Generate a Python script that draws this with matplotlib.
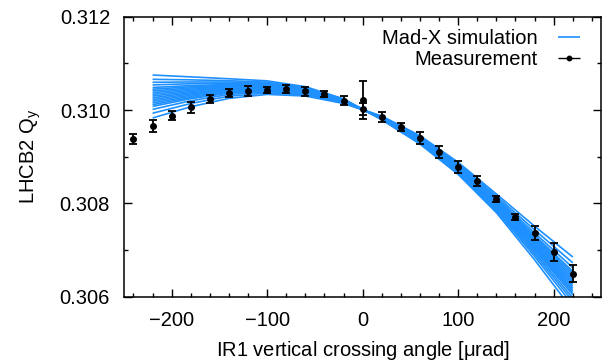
import matplotlib
matplotlib.use("Agg")
import matplotlib.pyplot as plt
from matplotlib.ticker import MultipleLocator, FormatStrFormatter
from matplotlib.legend_handler import HandlerErrorbar

plt.rcParams['font.family'] = ['Liberation Sans', 'DejaVu Sans']
plt.rcParams['mathtext.fontset'] = 'custom'
plt.rcParams['mathtext.rm'] = 'Liberation Sans'
plt.rcParams['mathtext.it'] = 'Liberation Sans'

# Mad-X runs: tune vs crossing angle, one row per error seed
sim_x = [-220, -180, -140, -100, -60, -20, 20, 60, 100, 140, 180, 220]
sim_qy = [
    [0.31075, 0.31071, 0.31067, 0.310625, 0.31050, 0.31024, 0.30979, 0.30927, 0.30862, 0.30780, 0.30679, 0.30571],
    [0.310658, 0.310646, 0.310628, 0.310596, 0.31048, 0.31023, 0.309798, 0.309288, 0.308646, 0.30784, 0.306862, 0.305824],
    [0.310594, 0.310601, 0.310599, 0.310576, 0.310466, 0.310223, 0.309804, 0.309301, 0.308664, 0.307868, 0.306912, 0.305904],
    [0.310538, 0.310563, 0.310573, 0.310558, 0.310454, 0.310217, 0.309808, 0.309311, 0.30868, 0.307892, 0.306956, 0.305972],
    [0.310483, 0.310524, 0.310548, 0.310541, 0.310442, 0.310211, 0.309813, 0.309322, 0.308695, 0.307916, 0.306999, 0.306041],
    [0.310446, 0.310499, 0.310531, 0.310529, 0.310434, 0.310207, 0.309816, 0.309329, 0.308706, 0.307932, 0.307028, 0.306086],
    [0.31041, 0.310473, 0.310515, 0.310518, 0.310426, 0.310203, 0.30982, 0.309337, 0.308716, 0.307948, 0.307056, 0.306132],
    [0.310373, 0.310448, 0.310498, 0.310506, 0.310418, 0.310199, 0.309823, 0.309344, 0.308727, 0.307964, 0.307085, 0.306177],
    [0.310336, 0.310422, 0.310481, 0.310495, 0.31041, 0.310195, 0.309826, 0.309351, 0.308737, 0.30798, 0.307114, 0.306223],
    [0.310299, 0.310396, 0.310464, 0.310483, 0.310402, 0.310191, 0.309829, 0.309358, 0.308747, 0.307996, 0.307143, 0.306269],
    [0.310262, 0.310371, 0.310447, 0.310471, 0.310394, 0.310187, 0.309832, 0.309365, 0.308758, 0.308012, 0.307172, 0.306314],
    [0.310226, 0.310345, 0.310431, 0.31046, 0.310386, 0.310183, 0.309836, 0.309373, 0.308768, 0.308028, 0.3072, 0.30636],
    [0.310189, 0.31032, 0.310414, 0.310448, 0.310378, 0.310179, 0.309839, 0.30938, 0.308779, 0.308044, 0.307229, 0.306405],
    [0.310152, 0.310294, 0.310397, 0.310437, 0.31037, 0.310175, 0.309842, 0.309387, 0.308789, 0.30806, 0.307258, 0.306451],
    [0.310115, 0.310268, 0.31038, 0.310425, 0.310362, 0.310171, 0.309845, 0.309394, 0.308799, 0.308076, 0.307287, 0.306497],
    [0.310078, 0.310243, 0.310363, 0.310413, 0.310354, 0.310167, 0.309848, 0.309401, 0.30881, 0.308092, 0.307316, 0.306542],
    [0.310014, 0.310198, 0.310334, 0.310393, 0.31034, 0.31016, 0.309854, 0.309414, 0.308828, 0.30812, 0.307366, 0.306622],
    [0.309931, 0.31014, 0.310296, 0.310367, 0.310322, 0.310151, 0.309861, 0.30943, 0.308851, 0.308156, 0.307431, 0.306725],
    [0.30983, 0.31007, 0.31025, 0.310335, 0.3103, 0.31014, 0.30987, 0.30945, 0.30888, 0.3082, 0.30751, 0.30685],
]

# measured LHCB2 vertical tune
meas_x = [-240, -220, -200, -180, -160, -140, -120, -100, -80, -60, -40, -20, 0, 0,
          20, 40, 60, 80, 100, 120, 140, 160, 180, 200, 220]
meas_qy = [0.30938, 0.30965, 0.30988, 0.31006, 0.31024, 0.31037, 0.31041, 0.31043, 0.31045,
           0.31040, 0.31034, 0.31020, 0.31022, 0.31002, 0.30985, 0.30964, 0.30940, 0.30910,
           0.30878, 0.30848, 0.30809, 0.30771, 0.30737, 0.30696, 0.30649]
meas_err = [0.00011, 0.00013, 0.00009, 0.00012, 0.00009, 0.00009, 0.00011, 0.00007, 0.00009,
            0.00010, 0.00006, 0.00009, 0.00041, 0.00012, 0.00010, 0.00009, 0.00013, 0.00012,
            0.00013, 0.00011, 0.00007, 0.00007, 0.00015, 0.00019, 0.00018]

fs = 14.5

fig = plt.figure(figsize=(6.06, 3.62), dpi=100)
ax = fig.add_axes([0.2045, 0.1804, 0.788, 0.7735])

blue = '#1e90ff'
for row in sim_qy:
    ax.plot(sim_x, row, color=blue, lw=1.2, solid_capstyle='butt')
sim_handle = ax.lines[0]

ax.errorbar(meas_x, meas_qy, yerr=meas_err, fmt='o', color='k', ms=4,
            elinewidth=1.3, capsize=3, capthick=1.3, zorder=5)

# horizontal error bar used only as the legend key
meas_handle = ax.errorbar([], [], xerr=[], fmt='o', color='k', ms=3.2,
                          elinewidth=1.0, capsize=3, capthick=1.0)

ax.set_xlim(-250, 250)
ax.set_ylim(0.306, 0.312)
ax.xaxis.set_major_locator(MultipleLocator(100))
ax.xaxis.set_minor_locator(MultipleLocator(20))
ax.yaxis.set_major_locator(MultipleLocator(0.002))
ax.yaxis.set_minor_locator(MultipleLocator(0.001))
ax.yaxis.set_major_formatter(FormatStrFormatter('%.3f'))
ax.tick_params(which='both', direction='in', top=True, right=True, labelsize=fs, width=1.0)
ax.tick_params(which='major', length=6, pad=10)
ax.tick_params(which='minor', length=3)
for s in ax.spines.values():
    s.set_linewidth(1.1)

ax.set_xlabel(r'IR1 vertical crossing angle [$\mu$rad]', fontsize=fs, labelpad=7)
ax.set_ylabel(r'LHCB2 Q$_\mathregular{y}$', fontsize=fs, labelpad=12)

leg = ax.legend([sim_handle, meas_handle], ['Mad-X simulation', 'Measurement'],
                loc='upper right', bbox_to_anchor=(0.955, 0.957), frameon=False,
                markerfirst=False, fontsize=fs, handlelength=1.1, handletextpad=1.0,
                borderpad=0, borderaxespad=0, labelspacing=0.1,
                handler_map={type(meas_handle): HandlerErrorbar(xerr_size=0.55)})
for col in leg._legend_handle_box.get_children():
    col.align = 'right'

fig.savefig('out.png', dpi=100)
